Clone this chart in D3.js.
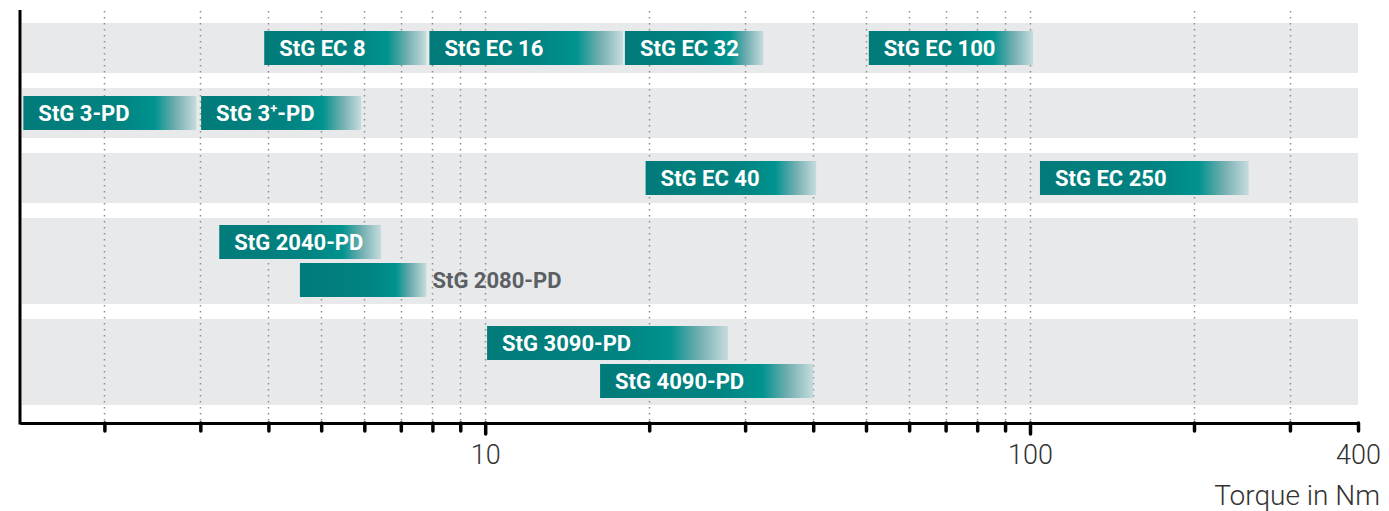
<!DOCTYPE html>
<html>
<head>
<meta charset="utf-8">
<script src="https://cdn.jsdelivr.net/npm/d3@7.9.0/dist/d3.min.js"></script>
<style>
  body { margin: 0; background: #fff; }
  svg { display: block; font-family: Roboto, "DejaVu Sans", sans-serif; }
</style>
</head>
<body>
<svg id="chart" width="1389" height="511"></svg>
<script>
// rows of the chart, top to bottom, and how many bars are stacked in each
const rowNames = ['EC small', 'PD small', 'EC large', 'PD 2000', 'PD 3000/4000'];
const rowLanes = [1, 1, 1, 2, 2];

// actuators: name, row, lane in row, torque range in Nm
const products = ['StG EC 8', 'StG EC 16', 'StG EC 32', 'StG EC 100',
  'StG 3-PD', 'StG 3+-PD',
  'StG EC 40', 'StG EC 250',
  'StG 2040-PD', 'StG 2080-PD',
  'StG 3090-PD', 'StG 4090-PD'];
const productRow = [0, 0, 0, 0, 1, 1, 2, 2, 3, 3, 4, 4];
const productLane = [0, 0, 0, 0, 0, 0, 0, 0, 0, 1, 0, 1];
const minTorque = [3.93, 7.9, 18.05, 50.6, 1.42, 3.01, 19.7, 104.3, 3.25, 4.57, 10.08, 16.25];
const maxTorque = [7.8, 17.9, 32.4, 101.3, 2.95, 5.92, 40.5, 252, 6.44, 7.8, 27.9, 40];

const tickValues = [2, 3, 4, 5, 6, 7, 8, 9, 10, 20, 30, 40, 50, 60, 70, 80, 90, 100, 200, 300, 400];
const labelledTicks = [10, 100, 400];
const gridValues = [2, 3, 4, 5, 6, 7, 8, 9, 10, 20, 30, 40, 50, 60, 70, 80, 90, 100, 200, 300];
const axisTitle = 'Torque in Nm';

const svg = d3.select('#chart');
const x = d3.scaleLog().domain([1.4, 400]).range([20, 1358]);

// row layout
const barH = 34, laneGap = 4, rowGap = 15, firstRowY = 23, axisY = 423;
const rowHeight = (n) => (n === 1 ? 50 : 86);
let rowTop = [];
let acc = firstRowY;
rowLanes.forEach((n) => { rowTop.push(acc); acc += rowHeight(n) + rowGap; });
const barY = (i) => {
  let r = productRow[i];
  let n = rowLanes[r];
  let pad = (rowHeight(n) - n * barH - (n - 1) * laneGap) / 2;
  return rowTop[r] + pad + productLane[i] * (barH + laneGap);
};

// bands
svg.append('g').selectAll('rect').data(rowNames).join('rect')
  .attr('x', 22).attr('width', x(400) - 22)
  .attr('y', (d, i) => rowTop[i])
  .attr('height', (d, i) => rowHeight(rowLanes[i]))
  .attr('fill', '#e8e9eb');

// dotted grid
svg.append('g').selectAll('line').data(gridValues).join('line')
  .attr('x1', (d) => Math.round(x(d)) + 0.5).attr('x2', (d) => Math.round(x(d)) + 0.5)
  .attr('y1', 11).attr('y2', axisY)
  .attr('stroke', '#8f8f8f').attr('stroke-width', 1.5)
  .attr('stroke-dasharray', '1.5,4.5');

// gradients
const defs = svg.append('defs');
products.forEach((p, i) => {
  let g = defs.append('linearGradient').attr('id', 'grad' + i);
  g.append('stop').attr('offset', 0).attr('stop-color', '#017b7a');
  g.append('stop').attr('offset', 0.55).attr('stop-color', '#018381');
  g.append('stop').attr('offset', 0.76).attr('stop-color', '#00938f');
  g.append('stop').attr('offset', 0.88).attr('stop-color', '#72aeb0');
  g.append('stop').attr('offset', 1).attr('stop-color', '#c6dcde');
});

// bars
const bars = svg.append('g').selectAll('g').data(products).join('g');
bars.append('rect')
  .attr('x', (d, i) => x(minTorque[i]))
  .attr('width', (d, i) => x(maxTorque[i]) - x(minTorque[i]))
  .attr('y', (d, i) => barY(i))
  .attr('height', barH)
  .attr('fill', (d, i) => `url(#grad${i})`);

bars.each(function (d, i) {
  let g = d3.select(this);
  let t = g.append('text')
    .attr('x', x(minTorque[i]) + 15)
    .attr('y', barY(i) + barH / 2 + 8)
    .attr('font-size', 22).attr('font-weight', 700)
    .attr('fill', '#fff');
  if (d.includes('+')) {
    let parts = d.split('+');
    t.append('tspan').text(parts[0]);
    t.append('tspan').attr('font-size', 13).attr('dy', -8).text('+');
    t.append('tspan').attr('dy', 8).text(parts[1]);
  } else {
    t.text(d);
  }
  let w = x(maxTorque[i]) - x(minTorque[i]);
  if (t.node().getComputedTextLength() + 20 > w) {
    t.attr('x', x(maxTorque[i]) + 6).attr('fill', '#5b6064');
  }
});

// axis
const axis = d3.axisBottom(x)
  .tickValues(tickValues)
  .tickSize(8)
  .tickSizeOuter(0)
  .tickPadding(14)
  .tickFormat((d) => (labelledTicks.includes(d) ? d : ''));
const ax = svg.append('g').attr('transform', `translate(0,${axisY})`).call(axis);
ax.select('.domain').attr('stroke', '#000').attr('stroke-width', 3);
ax.selectAll('.tick line')
  .attr('stroke', '#000').attr('stroke-width', 3.5).attr('stroke-linecap', 'round')
  .attr('y2', (d) => (d === 10 || d === 100 ? 11 : 8));
ax.selectAll('.tick text')
  .attr('font-size', 27).attr('font-weight', 300).attr('fill', '#333')
  .attr('font-family', 'Roboto');

// left axis line
svg.append('line')
  .attr('x1', 20).attr('x2', 20).attr('y1', 10).attr('y2', axisY + 1.5)
  .attr('stroke', '#000').attr('stroke-width', 3);

svg.append('text')
  .attr('x', 1380).attr('y', 505)
  .attr('text-anchor', 'end')
  .attr('font-size', 28).attr('font-weight', 300).attr('fill', '#333')
  .text(axisTitle);
</script>
</body>
</html>
